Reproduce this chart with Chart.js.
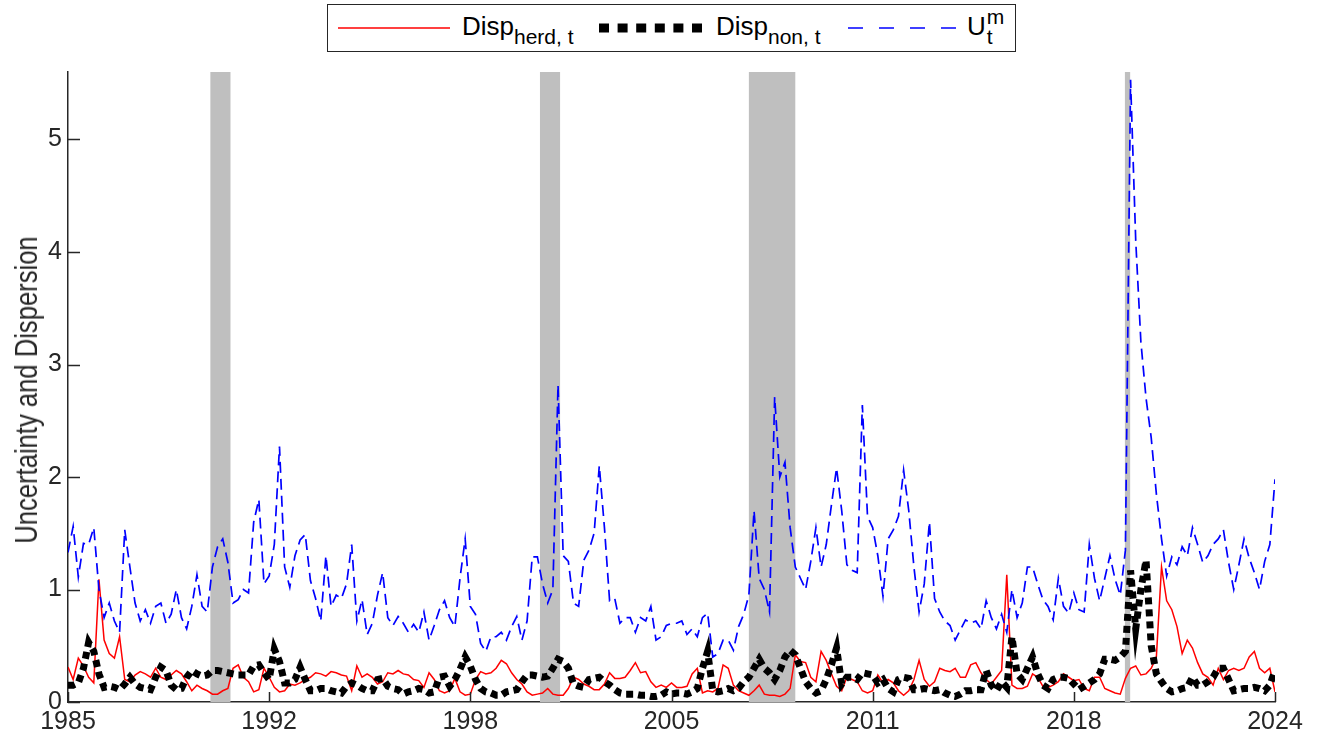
<!DOCTYPE html>
<html>
<head>
<meta charset="utf-8">
<script src="https://cdn.jsdelivr.net/npm/chart.js"></script>
<style>
    body { margin: 0; background: #fff; }
    #wrap { position: relative; width: 1320px; height: 738px; }
    #legend {
        position: absolute; left: 327px; top: 4px; width: 687px; height: 46px;
        border: 1px solid #262626; background: #fff;
        font-family: "Liberation Sans", Arial, sans-serif; font-size: 26px; color: #000;
    }
    #legend svg, #legend .lbl { position: absolute; }
    #legend .lbl { top: 8px; line-height: 26px; white-space: nowrap; }
    #legend sub { font-size: 21px; vertical-align: -9px; }
    .u { position: relative; }
    .u .sup, .u .sb { position: absolute; left: 100%; margin-left: 1px; font-size: 21px; line-height: 21px; }
    .u .sup { top: -5px; }
    .u .sb { top: 15px; }
    #ytitle {
        position: absolute; left: 26px; top: 390px; white-space: nowrap;
        font-family: "Liberation Sans", Arial, sans-serif; font-size: 32px; line-height: 32px; color: #262626;
        transform: translate(-50%, -50%) rotate(-90deg) scaleX(0.8);
    }
</style>
</head>
<body>
<div id="wrap">
    <canvas id="chart" width="1320" height="738"></canvas>
    <div id="ytitle">Uncertainty and Dispersion</div>
    <div id="legend">
        <svg style="left:10px;top:0" width="112" height="46"><line x1="0" y1="23" x2="112" y2="23" stroke="#ff0000" stroke-width="1.5"/></svg>
        <span class="lbl" style="left:134px">Disp<sub>herd, t</sub></span>
        <svg style="left:271px;top:0" width="104" height="46"><line x1="0" y1="23" x2="104" y2="23" stroke="#000" stroke-width="9" stroke-dasharray="10,8.6"/></svg>
        <span class="lbl" style="left:388px">Disp<sub>non, t</sub></span>
        <svg style="left:520px;top:0" width="110" height="46"><line x1="0" y1="23" x2="110" y2="23" stroke="#0000ff" stroke-width="1.5" stroke-dasharray="15,16"/></svg>
        <span class="lbl" style="left:639px"><span class="u">U<span class="sup">m</span><span class="sb">t</span></span></span>
    </div>
</div>
<script>
// one value every 2 months
const xStart = 1985;
const xStep = 1 / 6;

const xTickPos = [1985, 1991.5, 1998, 2004.5, 2011, 2017.5, 2024];
const xTickLabels = ['1985', '1992', '1998', '2005', '2011', '2018', '2024'];
const yTicks = [0, 1, 2, 3, 4, 5];

const recStart = [1989.6, 2000.25, 2007.0, 2019.15];
const recEnd = [1990.25, 2000.9, 2008.5, 2019.32];

const dispHerd = [
    0.31, 0.20, 0.39, 0.32, 0.22, 0.17, 1.09, 0.55, 0.43, 0.39,
    0.58, 0.20, 0.18, 0.24, 0.27, 0.25, 0.22, 0.30, 0.22, 0.20,
    0.24, 0.28, 0.25, 0.18, 0.10, 0.15, 0.12, 0.10, 0.07, 0.07,
    0.10, 0.12, 0.30, 0.33, 0.22, 0.18, 0.09, 0.11, 0.30, 0.22,
    0.13, 0.09, 0.10, 0.16, 0.15, 0.17, 0.20, 0.22, 0.26, 0.25,
    0.23, 0.27, 0.26, 0.24, 0.23, 0.10, 0.32, 0.22, 0.25, 0.22,
    0.16, 0.18, 0.26, 0.25, 0.28, 0.25, 0.24, 0.20, 0.19, 0.13,
    0.26, 0.20, 0.10, 0.08, 0.10, 0.21, 0.09, 0.06, 0.07, 0.20,
    0.27, 0.25, 0.26, 0.30, 0.37, 0.34, 0.26, 0.20, 0.16, 0.09,
    0.06, 0.07, 0.08, 0.12, 0.07, 0.06, 0.06, 0.12, 0.22, 0.20,
    0.16, 0.14, 0.11, 0.11, 0.16, 0.26, 0.21, 0.21, 0.22, 0.28,
    0.35, 0.26, 0.27, 0.18, 0.13, 0.15, 0.13, 0.17, 0.13, 0.13,
    0.14, 0.25, 0.30, 0.08, 0.10, 0.09, 0.12, 0.33, 0.30, 0.15,
    0.10, 0.08, 0.06, 0.10, 0.15, 0.07, 0.06, 0.06, 0.05, 0.07,
    0.12, 0.42, 0.36, 0.35, 0.22, 0.18, 0.45, 0.37, 0.25, 0.14,
    0.10, 0.22, 0.20, 0.18, 0.10, 0.08, 0.10, 0.24, 0.17, 0.20,
    0.17, 0.10, 0.06, 0.10, 0.20, 0.37, 0.20, 0.14, 0.18, 0.30,
    0.28, 0.27, 0.30, 0.22, 0.22, 0.33, 0.35, 0.26, 0.20, 0.16,
    0.22, 0.28, 1.13, 0.15, 0.12, 0.12, 0.14, 0.25, 0.22, 0.14,
    0.13, 0.15, 0.18, 0.25, 0.22, 0.19, 0.20, 0.12, 0.10, 0.22,
    0.22, 0.12, 0.10, 0.08, 0.07, 0.21, 0.30, 0.32, 0.24, 0.25,
    0.30, 0.40, 1.20, 0.90, 0.82, 0.67, 0.43, 0.55, 0.48, 0.35,
    0.25, 0.22, 0.15, 0.30, 0.20, 0.28, 0.30, 0.28, 0.30, 0.40,
    0.45, 0.30, 0.26, 0.30, 0.09
];

const dispNon = [
    0.15, 0.15, 0.17, 0.30, 0.53, 0.45, 0.25, 0.13, 0.14, 0.13,
    0.11, 0.16, 0.22, 0.16, 0.13, 0.12, 0.11, 0.22, 0.31, 0.28,
    0.15, 0.11, 0.12, 0.22, 0.28, 0.25, 0.23, 0.24, 0.28, 0.28,
    0.27, 0.26, 0.25, 0.24, 0.24, 0.24, 0.32, 0.33, 0.26, 0.20,
    0.47, 0.36, 0.17, 0.17, 0.20, 0.31, 0.20, 0.10, 0.10, 0.12,
    0.12, 0.10, 0.09, 0.08, 0.14, 0.17, 0.15, 0.12, 0.10, 0.10,
    0.20, 0.21, 0.14, 0.12, 0.11, 0.07, 0.09, 0.10, 0.12, 0.11,
    0.08, 0.09, 0.22, 0.23, 0.14, 0.20, 0.29, 0.40, 0.32, 0.20,
    0.12, 0.09, 0.08, 0.06, 0.06, 0.09, 0.10, 0.11, 0.18, 0.24,
    0.24, 0.23, 0.22, 0.23, 0.30, 0.38, 0.36, 0.30, 0.16, 0.14,
    0.13, 0.20, 0.21, 0.22, 0.18, 0.15, 0.11, 0.08, 0.07, 0.07,
    0.07, 0.06, 0.06, 0.05, 0.05, 0.06, 0.09, 0.07, 0.08, 0.08,
    0.07, 0.09, 0.12, 0.30, 0.45, 0.10, 0.09, 0.10, 0.12, 0.10,
    0.12, 0.18, 0.22, 0.30, 0.38, 0.30, 0.26, 0.20, 0.28, 0.40,
    0.46, 0.42, 0.30, 0.18, 0.12, 0.08, 0.10, 0.20, 0.33, 0.48,
    0.16, 0.22, 0.22, 0.20, 0.26, 0.25, 0.24, 0.17, 0.20, 0.12,
    0.09, 0.20, 0.22, 0.21, 0.11, 0.11, 0.12, 0.11, 0.10, 0.11,
    0.08, 0.06, 0.05, 0.07, 0.10, 0.10, 0.11, 0.11, 0.28, 0.15,
    0.10, 0.18, 0.13, 0.58, 0.25, 0.20, 0.30, 0.40, 0.25, 0.15,
    0.12, 0.20, 0.22, 0.22, 0.21, 0.16, 0.11, 0.14, 0.17, 0.20,
    0.25, 0.38, 0.38, 0.37, 0.40, 0.45, 1.17, 0.65, 1.00, 1.26,
    0.50, 0.25, 0.18, 0.12, 0.09, 0.10, 0.12, 0.13, 0.22, 0.15,
    0.15, 0.18, 0.22, 0.30, 0.30, 0.20, 0.10, 0.11, 0.12, 0.12,
    0.13, 0.12, 0.10, 0.15, 0.28
];

const uncM = [
    1.33, 1.56, 1.11, 1.41, 1.40, 1.55, 1.00, 0.75, 0.88, 0.72,
    0.62, 1.53, 1.20, 0.88, 0.72, 0.82, 0.70, 0.85, 0.88, 0.70,
    0.78, 1.00, 0.75, 0.65, 0.85, 1.13, 0.85, 0.80, 1.20, 1.38,
    1.45, 1.24, 0.88, 0.91, 1.00, 0.97, 1.60, 1.80, 1.05, 1.12,
    1.40, 2.27, 1.20, 1.02, 1.30, 1.44, 1.49, 1.08, 0.92, 0.72,
    1.30, 0.85, 0.95, 0.92, 1.05, 1.40, 0.72, 0.91, 0.60, 0.70,
    0.95, 1.15, 0.75, 0.68, 0.76, 0.70, 0.62, 0.69, 0.62, 0.80,
    0.55, 0.68, 0.82, 0.90, 0.75, 0.67, 1.10, 1.45, 0.85, 0.78,
    0.52, 0.45, 0.58, 0.58, 0.62, 0.55, 0.67, 0.76, 0.55, 0.72,
    1.29, 1.29, 1.05, 0.88, 1.00, 2.82, 1.30, 1.25, 0.88, 0.85,
    1.26, 1.35, 1.50, 2.10, 1.55, 0.90, 0.92, 0.70, 0.75, 0.75,
    0.62, 0.75, 0.72, 0.85, 0.55, 0.58, 0.68, 0.70, 0.70, 0.72,
    0.60, 0.65, 0.58, 0.75, 0.79, 0.40, 0.43, 0.55, 0.55, 0.46,
    0.67, 0.78, 0.95, 1.70, 1.10, 1.00, 0.80, 2.71, 2.00, 2.13,
    1.55, 1.20, 1.10, 1.00, 1.25, 1.55, 1.20, 1.40, 1.75, 2.08,
    1.70, 1.22, 1.17, 1.15, 2.64, 1.65, 1.55, 1.30, 0.94, 1.45,
    1.53, 1.65, 2.06, 1.70, 1.20, 0.80, 1.05, 1.60, 0.92, 0.80,
    0.72, 0.68, 0.55, 0.64, 0.73, 0.70, 0.72, 0.65, 0.90, 0.75,
    0.65, 0.78, 0.62, 1.00, 0.75, 0.88, 1.20, 1.20, 1.05, 0.91,
    0.85, 0.73, 1.10, 0.85, 0.79, 0.97, 0.82, 0.80, 1.40, 1.10,
    0.90, 1.10, 1.30, 1.09, 0.95, 1.35, 5.53, 4.10, 3.20, 2.70,
    2.35, 1.85, 1.45, 1.12, 1.29, 1.22, 1.38, 1.30, 1.55, 1.40,
    1.24, 1.30, 1.40, 1.45, 1.53, 1.24, 1.00, 1.22, 1.45, 1.28,
    1.15, 1.00, 1.25, 1.40, 1.98
];

function toPoints(vals) {
    return vals.map((v, i) => ({ x: xStart + i * xStep, y: v }));
}

const recessions = {
    id: 'recessions',
    beforeDatasetsDraw(chart) {
        const c = chart.ctx, a = chart.chartArea, xs = chart.scales.x;
        c.save();
        c.fillStyle = '#bfbfbf';
        for (let k = 0; k < recStart.length; k++) {
            const x0 = xs.getPixelForValue(recStart[k]);
            const x1 = xs.getPixelForValue(recEnd[k]);
            c.fillRect(x0, a.top, x1 - x0, a.bottom - a.top);
        }
        c.restore();
    }
};

const innerTicks = {
    id: 'innerTicks',
    afterDraw(chart) {
        const c = chart.ctx, a = chart.chartArea;
        const xs = chart.scales.x, ys = chart.scales.y;
        c.save();
        c.strokeStyle = '#262626';
        c.lineWidth = 1.5;
        c.beginPath();
        ys.ticks.forEach(t => {
            const p = Math.round(ys.getPixelForValue(t.value)) + 0.5;
            c.moveTo(a.left, p);
            c.lineTo(a.left + 12, p);
        });
        xs.ticks.forEach(t => {
            const p = Math.round(xs.getPixelForValue(t.value)) + 0.5;
            c.moveTo(p, a.bottom);
            c.lineTo(p, a.bottom - 10);
        });
        c.stroke();
        c.restore();
    }
};

var ctx = document.getElementById('chart').getContext('2d');
var chart = new Chart(ctx, {
    type: 'line',
    data: {
        datasets: [{
            label: 'Disp herd, t',
            data: toPoints(dispHerd),
            borderColor: '#ff0000',
            borderWidth: 1.5,
            order: 3,
        }, {
            label: 'Disp non, t',
            data: toPoints(dispNon),
            borderColor: '#000000',
            borderWidth: 7,
            borderDash: [7, 5],
            borderCapStyle: 'butt',
            order: 2,
        }, {
            label: 'U m t',
            data: toPoints(uncM),
            borderColor: '#0000ff',
            borderWidth: 1.7,
            borderDash: [11, 6],
            order: 1,
        }]
    },
    options: {
        responsive: false,
        animation: false,
        devicePixelRatio: 1,
        elements: {
            point: { radius: 0 },
            line: { tension: 0, fill: false }
        },
        layout: { padding: { left: 0, right: 45, top: 72, bottom: 0 } },
        plugins: {
            legend: { display: false },
            tooltip: { enabled: false }
        },
        scales: {
            x: {
                type: 'linear',
                min: 1985,
                max: 2024,
                afterBuildTicks: (s) => { s.ticks = xTickPos.map(v => ({ value: v })); },
                afterFit: (s) => { s.height = 36; },
                grid: { display: false, drawTicks: false },
                border: { display: true, color: '#262626', width: 1.5 },
                ticks: {
                    autoSkip: false,
                    maxRotation: 0,
                    padding: 5,
                    color: '#262626',
                    font: { family: 'Liberation Sans', size: 25 },
                    callback: (v, i) => xTickLabels[i],
                }
            },
            y: {
                min: 0,
                max: 5.6,
                afterBuildTicks: (s) => { s.ticks = yTicks.map(v => ({ value: v })); },
                afterFit: (s) => { s.width = 68; },
                grid: { display: false, drawTicks: false },
                border: { display: true, color: '#262626', width: 1.5 },
                ticks: {
                    padding: 6,
                    color: '#262626',
                    font: { family: 'Liberation Sans', size: 25 },
                }
            }
        }
    },
    plugins: [recessions, innerTicks]
});
</script>
</body>
</html>
